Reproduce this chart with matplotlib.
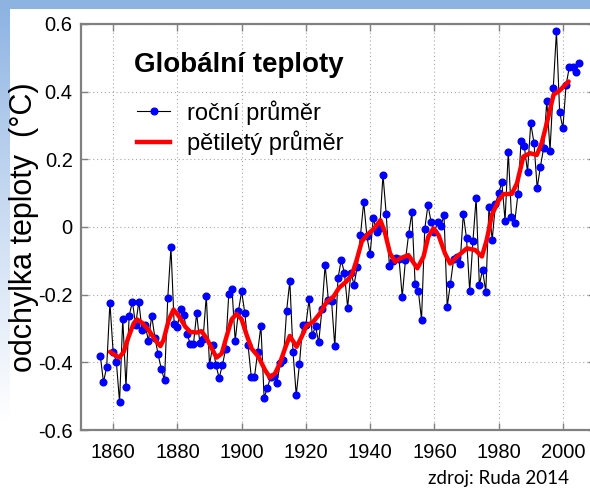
import numpy as np
import matplotlib
matplotlib.use("Agg")
import matplotlib.pyplot as plt
from matplotlib.lines import Line2D

plt.rcParams['font.family'] = ['Liberation Sans', 'DejaVu Sans']

# Annual global temperature anomaly (°C), 1856-2005
years = list(range(1856, 2006))
annual = [
    -0.380, -0.459, -0.413, -0.224, -0.369, -0.398, -0.517, -0.271, -0.473, -0.262,
    -0.221, -0.289, -0.221, -0.305, -0.290, -0.337, -0.262, -0.327, -0.376, -0.420,
    -0.453, -0.211, -0.060, -0.287, -0.295, -0.243, -0.260, -0.315, -0.346, -0.347,
    -0.255, -0.344, -0.330, -0.203, -0.408, -0.350, -0.408, -0.446, -0.409, -0.362,
    -0.198, -0.183, -0.337, -0.249, -0.190, -0.255, -0.349, -0.443, -0.443, -0.369,
    -0.292, -0.504, -0.477, -0.443, -0.441, -0.460, -0.403, -0.392, -0.248, -0.160,
    -0.370, -0.497, -0.405, -0.289, -0.289, -0.214, -0.320, -0.294, -0.341, -0.243,
    -0.112, -0.216, -0.220, -0.353, -0.152, -0.097, -0.136, -0.238, -0.135, -0.170,
    -0.118, -0.024, 0.074, -0.028, -0.081, 0.028, -0.016, -0.002, 0.154, 0.039,
    -0.114, -0.101, -0.093, -0.095, -0.206, -0.098, -0.020, 0.043, -0.167, -0.188,
    -0.274, -0.006, 0.065, 0.014, -0.015, 0.014, 0.003, 0.034, -0.235, -0.167,
    -0.095, -0.090, -0.108, 0.038, -0.033, -0.189, -0.042, 0.086, -0.172, -0.126,
    -0.192, 0.059, -0.038, 0.068, 0.100, 0.132, 0.019, 0.222, 0.031, 0.013,
    0.097, 0.255, 0.238, 0.163, 0.307, 0.249, 0.115, 0.178, 0.233, 0.373,
    0.226, 0.410, 0.578, 0.339, 0.292, 0.420, 0.472, 0.474, 0.457, 0.484,
]

# Five-year mean curve (year, °C)
smooth_years = [
    1859.0, 1860.7, 1861.9, 1863.3, 1864.8, 1866.4, 1867.4, 1869.0, 1871.1, 1873.1,
    1874.7, 1875.7, 1877.3, 1878.8, 1880.4, 1882.5, 1884.0, 1886.0, 1887.5, 1889.1,
    1890.7, 1892.2, 1893.8, 1895.3, 1896.9, 1898.4, 1900.0, 1901.6, 1903.1, 1905.2,
    1907.3, 1908.8, 1910.4, 1911.9, 1913.5, 1915.0, 1917.1, 1918.7, 1920.2, 1922.3,
    1924.4, 1926.5, 1928.6, 1930.3, 1932.5, 1934.3, 1935.8, 1937.4, 1939.2, 1941.3,
    1943.2, 1944.6, 1946.2, 1947.8, 1949.3, 1951.9, 1954.7, 1956.6, 1958.1, 1959.7,
    1961.3, 1963.3, 1964.9, 1967.0, 1970.1, 1972.7, 1974.8, 1976.3, 1977.9, 1980.0,
    1981.5, 1984.1, 1985.7, 1987.7, 1989.8, 1991.9, 1993.4, 1995.0, 1997.1, 1999.2,
    2000.7, 2001.8,
]
smooth_vals = [
    -0.369, -0.379, -0.386, -0.369, -0.325, -0.285, -0.273, -0.283, -0.305, -0.334,
    -0.352, -0.334, -0.275, -0.244, -0.263, -0.295, -0.310, -0.312, -0.308, -0.329,
    -0.359, -0.386, -0.374, -0.324, -0.273, -0.257, -0.273, -0.320, -0.359, -0.383,
    -0.423, -0.445, -0.433, -0.403, -0.359, -0.322, -0.354, -0.324, -0.292, -0.280,
    -0.255, -0.221, -0.206, -0.180, -0.162, -0.142, -0.098, -0.043, -0.022, -0.004,
    0.020, -0.016, -0.078, -0.103, -0.093, -0.083, -0.122, -0.088, -0.029, -0.004,
    -0.024, -0.078, -0.108, -0.088, -0.063, -0.068, -0.087, -0.038, 0.036, 0.078,
    0.097, 0.098, 0.129, 0.208, 0.218, 0.213, 0.248, 0.307, 0.391, 0.405,
    0.420, 0.430,
]

x_ticks = [1860, 1880, 1900, 1920, 1940, 1960, 1980, 2000]
y_ticks = [-0.6, -0.4, -0.2, 0.0, 0.2, 0.4, 0.6]
y_tick_labels = ['-0.6', '-0.4', '-0.2', '0', '0.2', '0.4', '0.6']

W, H = 590, 494
fig = plt.figure(figsize=(W / 100, H / 100), dpi=100)

# slide-style background: blue band on top, fading strip on the left
bg = np.ones((H, W, 3))
blue = np.array([141, 179, 226]) / 255.0
bg[:10, :, :] = blue
rows = np.arange(H)
t = np.clip((rows - 10) / 410.0, 0, 1) ** 0.9
strip = blue[None, :] * (1 - t[:, None]) + np.ones(3)[None, :] * t[:, None]
bg[10:, :10, :] = strip[10:, None, :]
bga = fig.add_axes([0, 0, 1, 1], zorder=-5)
bga.imshow(bg, aspect='auto', extent=[0, W, H, 0])
bga.set_axis_off()

ax = fig.add_axes([81 / W, 64 / H, 514 / W, 406 / H])
ax.set_xlim(1850, 2010)
ax.set_ylim(-0.6, 0.6)
ax.set_facecolor('white')

ax.plot(years, annual, color='black', lw=0.8, marker='o', ms=4.8,
        mfc='#0000ff', mec='#0000ff', zorder=3)
ax.plot(smooth_years, smooth_vals, color='#ff0000', lw=3.2,
        solid_capstyle='round', solid_joinstyle='round', zorder=4)

ax.set_xticks(x_ticks)
ax.set_yticks(y_ticks)
ax.set_yticklabels(y_tick_labels)
ax.grid(True, color='#a8a8a8', lw=0.8, ls=(0, (1, 2.5)))
ax.set_axisbelow(True)
ax.tick_params(direction='in', length=5, width=1, color='#808080',
               top=True, right=True, labelsize=14.5, labelcolor='black')
ax.tick_params(axis='x', pad=9)
ax.tick_params(axis='y', pad=6)
for s in ax.spines.values():
    s.set_color('#808080')
    s.set_linewidth(1.6)

ax.set_ylabel('odchylka teploty  (°C)', fontsize=22, labelpad=-1)

fig.text(239 / W, 1 - 65 / H, 'Globální teploty', ha='center', va='center',
         fontsize=20, fontweight='bold')

handles = [
    Line2D([], [], color='black', lw=0.8, marker='o', ms=4.8,
           mfc='#0000ff', mec='#0000ff'),
    Line2D([], [], color='#ff0000', lw=3.2),
]
ax.legend(handles, ['roční průměr', 'pětiletý průměr'], loc='upper left',
          bbox_to_anchor=(137 / W, 1 - 100 / H), bbox_transform=fig.transFigure,
          frameon=False, fontsize=17, numpoints=1, handlelength=1.4,
          handletextpad=0.7, labelspacing=0.25, borderpad=0, borderaxespad=0)

fig.text(499 / W, 1 - 478 / H, 'zdroj: Ruda 2014', ha='center', va='center',
         fontsize=13.5, family=['Lato', 'DejaVu Sans'])

fig.savefig('out.png', dpi=100)
